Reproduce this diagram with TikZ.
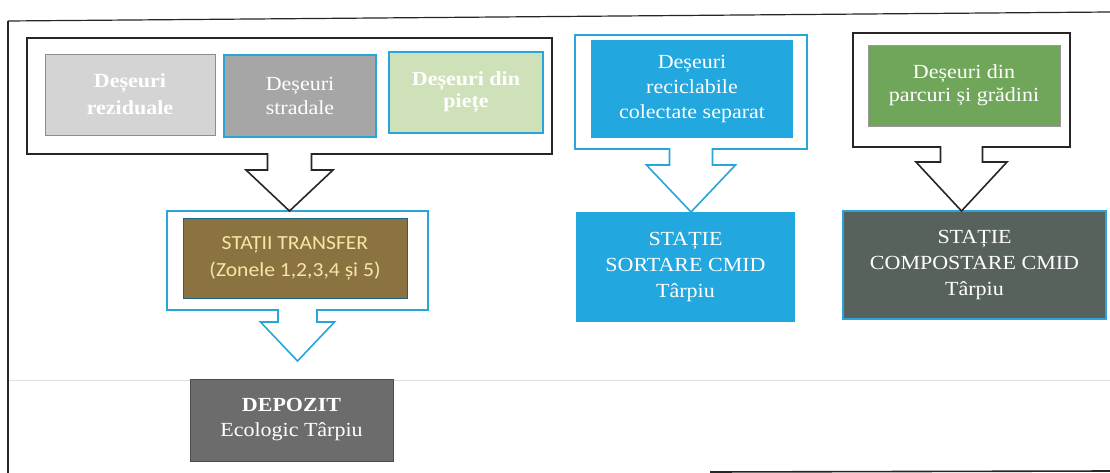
\documentclass[tikz,border=0pt]{standalone}
\usepackage{fontspec}
\setmainfont[FakeStretch=1.1]{Liberation Serif}
\newfontfamily\calib[FakeStretch=1.08]{Carlito}
\usetikzlibrary{calc}
\definecolor{wblue}{HTML}{2AA5DA}
\definecolor{lgray}{HTML}{D4D4D4}
\definecolor{mgray}{HTML}{A6A6A6}
\definecolor{lgreen}{HTML}{CFE1B9}
\definecolor{brownbox}{HTML}{8B7341}
\definecolor{browntxt}{HTML}{F6E7A6}
\definecolor{depgray}{HTML}{6C6C6C}
\definecolor{skyblue}{HTML}{22A7DF}
\definecolor{ggreen}{HTML}{6FA65A}
\definecolor{compgray}{HTML}{58625C}
\tikzset{
  grp/.style={anchor=north west, inner sep=0pt, outer sep=0pt, line width=1.6pt, fill=white},
  grpblack/.style={grp, draw=black!85},
  grpblue/.style={grp, draw=wblue},
  box/.style={anchor=north west, inner sep=0pt, outer sep=0pt, align=center, text=white},
  serif20/.style={font=\fontsize{20}{#1}\selectfont},
  serifb20/.style={font=\fontsize{20}{#1}\selectfont\bfseries},
  arr/.style={fill=white, line width=1.6pt, line join=miter},
}
% #1 source node, #2 target point, #3 stem half width, #4 head half width, #5 stem length, #6 colour
\newcommand\blkarrow[6]{%
  \filldraw[arr, draw=#6] let \p1=(#1.south), \p2=(#2) in
    (\x1-#3pt,\y1+0.8pt) -- (\x1-#3pt,\y1-#5pt) -- (\x1-#4pt,\y1-#5pt) -- (\x1,\y2)
    -- (\x1+#4pt,\y1-#5pt) -- (\x1+#3pt,\y1-#5pt) -- (\x1+#3pt,\y1+0.8pt);}
\begin{document}
\begin{tikzpicture}[x=1pt,y=-1pt]
\useasboundingbox[fill=white] (0,0) rectangle (1110,473);
% page frame (scanned table borders)
\draw[black!12, line width=1pt] (8,380) -- (1110,380);
\draw[black!85, line width=1.2pt] (8,21) -- (1110,12);
\draw[black!85, line width=1.2pt] (8,21) -- (8,473);
\draw[black!85, line width=1.6pt] (710,472) -- (1110,471);

% group 1
\node[grpblack, minimum width=525, minimum height=116] (g1) at (27,38) {};
\node[box, serifb20=27, fill=lgray, draw=black!45, line width=0.6pt,
      minimum width=170, minimum height=81] (b1) at (45,54) {Deșeuri\\reziduale};
\node[box, serif20=24, fill=mgray, draw=wblue, line width=1.5pt,
      minimum width=152, minimum height=82] (b2) at (224,55) {Deșeuri\\stradale};
\node[box, serifb20=22, fill=lgreen, draw=wblue, line width=1.5pt,
      minimum width=154, minimum height=81] (b3) at (389,52) {Deșeuri din\\piețe};

% transfer
\node[grpblue, minimum width=261, minimum height=99] (gT) at (167,211) {};
\node[box, text=browntxt, font=\calib\fontsize{20}{27}\selectfont, fill=brownbox, draw=wblue!60!black, line width=0.8pt,
      minimum width=224, minimum height=80] (bT) at (183,218) {STAȚII TRANSFER\\(Zonele 1,2,3,4 și 5)};

% depozit
\node[box, serif20=25, fill=depgray, draw=black!70, line width=1pt,
      minimum width=203, minimum height=82] (dep) at (190,379) {\textbf{DEPOZIT}\\Ecologic Târpiu};
\coordinate (depin) at ($(dep.north)+(0,-18)$);

% group 3
\node[grpblue, minimum width=232, minimum height=114] (g3) at (575,35) {};
\node[box, serif20=25, fill=skyblue, minimum width=202, minimum height=98] (b4) at (591,40)
      {Deșeuri\\reciclabile\\colectate separat};
\node[box, serif20=26, fill=skyblue, minimum width=219, minimum height=110] (sort) at (576,212)
      {STAȚIE\\SORTARE CMID\\Târpiu};

% group 4
\node[grpblack, minimum width=217, minimum height=114] (g4) at (853,33) {};
\node[box, serif20=23, fill=ggreen, draw=black!40, line width=0.6pt,
      minimum width=192, minimum height=81] (b5) at (868,45) {Deșeuri din\\parcuri și grădini};
\node[box, serif20=26, fill=compgray, draw=wblue, line width=1.5pt,
      minimum width=263, minimum height=108] (comp) at (843,211) {STAȚIE\\COMPOSTARE CMID\\Târpiu};

% block arrows
\blkarrow{g1}{gT.north}{22}{43.5}{16}{black!85}
\blkarrow{gT}{depin}{19.5}{37}{12}{wblue}
\blkarrow{g3}{sort.north}{21.5}{44.5}{16}{wblue}
\blkarrow{g4}{comp.north}{21}{45.5}{15}{black!85}
\end{tikzpicture}
\end{document}
